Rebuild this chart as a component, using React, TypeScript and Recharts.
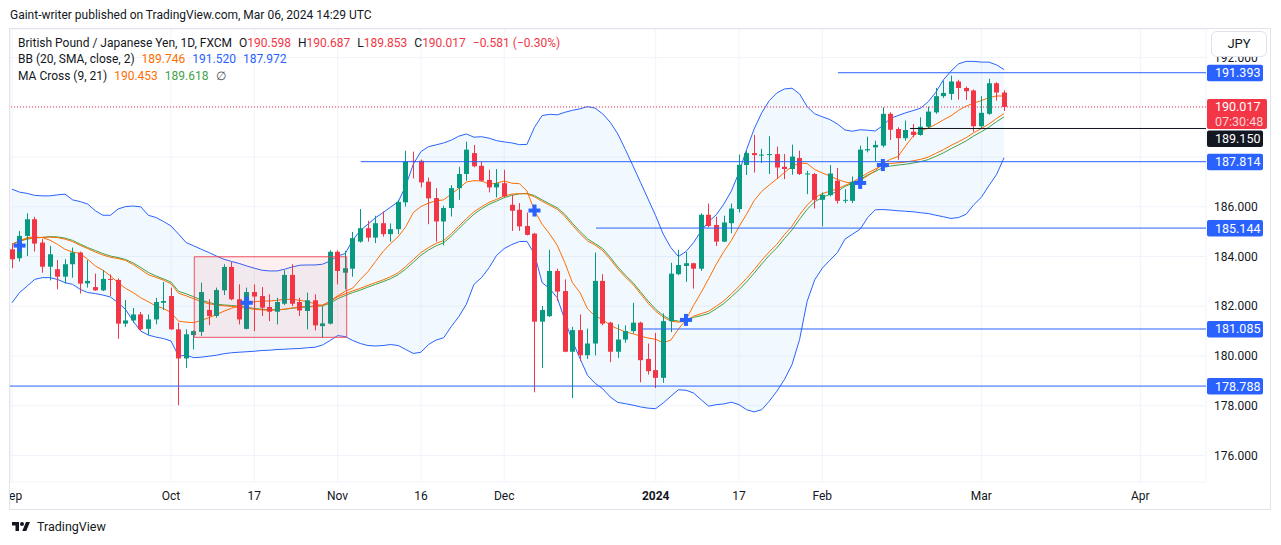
import React from 'react';
import {
  ComposedChart,
  Bar,
  Line,
  Area,
  XAxis,
  YAxis,
  CartesianGrid,
  ReferenceLine,
  ReferenceArea,
} from 'recharts';

// ---------- data (GBP/JPY daily, FXCM) ----------
const OPEN = [
  184.29, 183.93, 184.83, 185.5, 184.56, 183.59, 183.49, 183.19, 183.69, 184.16,
  182.92, 182.77, 182.64, 183.1, 183.06, 181.3, 181.43, 181.67, 181.09, 181.47,
  182.14, 182.41, 181.07, 179.9, 180.84, 180.97, 181.85, 181.61, 182.64, 183.58,
  182.28, 181.09, 182.57, 182.41, 181.97, 181.78, 182.1, 183.26, 182.17, 181.81,
  182.24, 181.2, 181.3, 184.19, 183.35, 183.51, 184.6, 185.14, 184.76, 185.34,
  184.9, 185.1, 186.18, 187.85, 187.85, 187.01, 186.35, 185.41, 185.95, 186.75,
  187.32, 188.16, 187.65, 187.08, 186.78, 186.95, 186.08, 185.88, 185.23, 184.92,
  181.38, 181.6, 183.42, 182.61, 180.17, 181.04, 180.03, 180.5, 183.02, 181.34,
  180.17, 180.66, 181.0, 181.34, 179.88, 179.43, 179.12, 181.4, 183.29, 183.62,
  183.73, 183.51, 185.68, 185.27, 184.6, 185.34, 185.91, 187.68, 188.16, 188.07,
  188.1, 188.12, 187.61, 187.52, 187.96, 187.3, 187.32, 186.28, 186.47, 187.05,
  186.25, 186.24, 186.98, 188.27, 188.39, 188.46, 189.74, 189.13, 188.76, 189.02,
  188.89, 189.22, 189.8, 190.45, 190.54, 191.04, 190.78, 190.68, 189.24, 189.74,
  190.97, 190.598,
];
const HIGH = [
  184.49, 185.03, 185.74, 185.6, 184.7, 184.43, 183.86, 183.89, 184.36, 184.2,
  183.86, 183.31, 183.45, 183.28, 183.12, 182.25, 181.93, 181.77, 181.67, 182.34,
  182.98, 182.75, 181.34, 181.07, 181.03, 182.95, 182.28, 182.75, 183.69, 183.78,
  182.88, 182.75, 182.88, 182.77, 182.48, 182.34, 183.45, 183.69, 182.34, 182.55,
  182.48, 182.01, 184.25, 184.25, 184.23, 184.99, 185.91, 185.44, 185.64, 185.81,
  185.33, 186.28, 188.26, 188.22, 187.9, 187.18, 186.75, 186.04, 186.87, 187.61,
  188.62, 188.49, 187.81, 187.49, 187.52, 187.49, 186.48, 186.15, 185.77, 184.95,
  182.01, 184.27, 183.51, 183.08, 181.17, 181.67, 181.1, 184.16, 183.29, 181.38,
  181.27, 181.23, 182.14, 181.38, 180.5, 180.93, 181.71, 183.75, 184.27, 184.18,
  183.75, 185.74, 186.13, 185.6, 185.64, 186.13, 188.1, 188.26, 188.89, 188.33,
  188.84, 188.42, 188.12, 188.5, 188.26, 187.45, 187.36, 186.58, 187.68, 187.56,
  186.71, 187.22, 188.46, 188.82, 188.66, 190.0, 189.8, 189.2, 189.47, 189.33,
  189.6, 190.03, 190.78, 191.08, 191.28, 191.11, 190.84, 190.72, 190.45, 191.15,
  191.01, 190.687,
];
const LOW = [
  183.53, 183.8, 184.02, 184.2, 183.35, 183.04, 182.68, 182.91, 183.15, 182.51,
  182.75, 182.62, 182.61, 182.41, 180.69, 181.17, 181.34, 181.0, 180.84, 181.27,
  181.85, 181.05, 178.02, 179.52, 180.26, 180.8, 181.24, 181.54, 182.45, 182.24,
  181.27, 181.07, 181.0, 181.61, 181.4, 181.27, 182.05, 182.01, 181.61, 181.07,
  181.03, 180.73, 181.27, 182.88, 182.68, 183.19, 184.56, 184.6, 184.54, 184.8,
  184.6, 184.9, 186.01, 187.14, 186.78, 185.3, 184.6, 184.45, 185.61, 186.28,
  187.05, 187.59, 187.01, 186.58, 186.38, 186.38, 185.03, 185.03, 184.85, 178.54,
  179.52, 181.57, 182.21, 180.15, 178.31, 179.79, 179.88, 180.02, 181.23, 179.75,
  179.92, 180.53, 180.9, 178.94, 179.25, 178.71, 178.92, 180.96, 183.25, 182.98,
  182.71, 183.42, 185.17, 184.42, 184.58, 184.94, 185.77, 187.28, 187.38, 187.76,
  187.32, 187.14, 187.11, 187.29, 187.28, 186.51, 185.93, 185.21, 186.42, 186.13,
  186.15, 186.15, 186.85, 188.19, 187.83, 188.39, 188.69, 187.89, 188.66, 188.8,
  188.86, 189.13, 189.74, 190.38, 190.3, 190.31, 190.3, 189.02, 189.17, 189.7,
  190.27, 189.853,
];
const CLOSE = [
  183.89, 184.83, 185.5, 184.52, 183.59, 184.09, 183.19, 183.69, 184.16, 182.91,
  183.02, 182.64, 183.1, 183.06, 181.3, 181.43, 181.67, 181.07, 181.47, 182.17,
  182.21, 181.07, 179.9, 180.87, 181.0, 182.57, 181.61, 182.65, 183.58, 182.28,
  181.47, 182.57, 182.39, 181.94, 181.78, 182.17, 183.26, 182.1, 181.83, 182.24,
  181.23, 181.31, 184.19, 183.42, 183.53, 184.74, 185.14, 184.76, 185.34, 184.9,
  185.1, 186.2, 187.83, 187.81, 186.98, 186.34, 185.41, 185.95, 186.75, 187.32,
  188.3, 187.63, 187.05, 186.78, 186.95, 186.42, 185.84, 185.21, 184.87, 181.38,
  181.85, 183.42, 182.59, 180.17, 181.04, 180.03, 180.5, 183.02, 181.3, 180.17,
  180.66, 181.0, 181.34, 179.83, 179.39, 179.12, 181.4, 183.31, 183.66, 183.73,
  183.51, 185.68, 185.23, 184.6, 185.37, 185.93, 187.69, 188.16, 188.08, 188.1,
  188.12, 187.58, 187.52, 188.02, 187.32, 187.34, 186.28, 186.48, 187.34, 186.24,
  186.28, 187.01, 188.3, 188.32, 188.49, 189.74, 189.1, 188.76, 189.09, 188.89,
  189.22, 189.83, 190.45, 190.58, 191.04, 190.78, 190.65, 189.24, 189.78, 190.97,
  190.598, 190.017,
];

// Bollinger Bands (20, SMA, close, 2) as drawn
const BB_UPPER = [
  186.71, 186.59, 186.54, 186.46, 186.44, 186.44, 186.48, 186.51, 186.28, 186.21,
  186.11, 185.84, 185.66, 185.66, 185.91, 186.01, 186.03, 186.0, 185.66, 185.57,
  185.41, 185.23, 184.9, 184.56, 184.43, 184.29, 184.16, 184.02, 183.89, 183.8,
  183.72, 183.62, 183.53, 183.45, 183.42, 183.42, 183.49, 183.58, 183.65, 183.66,
  183.66, 183.69, 183.82, 184.02, 184.12, 184.66, 185.05, 185.3, 185.56, 185.77,
  185.99, 186.2, 186.85, 187.72, 188.22, 188.42, 188.49, 188.57, 188.68, 188.84,
  188.93, 188.8, 188.82, 188.76, 188.66, 188.61, 188.57, 188.5, 188.51, 189.2,
  189.67, 189.72, 189.7, 189.8, 189.88, 189.94, 190.03, 189.97, 189.74, 189.4,
  188.93, 188.3, 187.65, 186.98, 186.31, 185.64, 184.9, 184.36, 184.0, 184.2,
  184.56, 185.03, 185.41, 185.68, 186.11, 186.64, 187.38, 188.3, 189.13, 189.78,
  190.27, 190.58, 190.74, 190.77, 190.54, 190.03, 189.74, 189.62, 189.51, 189.33,
  189.09, 189.04, 189.1, 189.08, 189.05, 189.27, 189.56, 189.67, 189.78, 189.87,
  189.97, 190.23, 190.61, 191.11, 191.46, 191.75, 191.85, 191.85, 191.82, 191.82,
  191.71, 191.52,
];
const BB_LOWER = [
  182.14, 182.55, 182.81, 183.08, 183.15, 183.15, 183.08, 182.95, 182.88, 182.68,
  182.55, 182.51, 182.45, 182.37, 182.14, 181.87, 181.4, 181.0, 180.84, 180.76,
  180.7, 180.6, 179.99, 180.03, 179.93, 179.95, 179.99, 180.03, 180.09, 180.13,
  180.15, 180.17, 180.19, 180.22, 180.23, 180.26, 180.27, 180.29, 180.3, 180.33,
  180.35, 180.44, 180.62, 180.82, 180.78, 180.62, 180.5, 180.42, 180.4, 180.42,
  180.46, 180.42, 180.26, 180.1, 180.15, 180.46, 180.64, 180.73, 181.18, 181.58,
  182.08, 182.88, 183.15, 183.55, 184.05, 184.32, 184.48, 184.6, 184.61, 184.09,
  182.95, 182.71, 182.34, 181.45, 180.6, 179.9, 179.22, 178.9, 178.68, 178.35,
  178.13, 178.08, 178.02, 177.95, 177.9, 177.88, 178.11, 178.38, 178.64, 178.62,
  178.51, 178.24, 177.98, 178.04, 178.07, 178.14, 178.04, 177.84, 177.75, 177.84,
  178.18, 178.58, 179.05, 179.65, 180.66, 182.2, 183.06, 183.53, 183.85, 184.16,
  184.7, 184.9, 185.1, 185.57, 185.88, 185.89, 185.87, 185.84, 185.82, 185.8,
  185.76, 185.73, 185.66, 185.6, 185.53, 185.57, 185.7, 186.08, 186.38, 186.85,
  187.29, 187.972,
];
const BB_BASIS = [
  184.48, 184.62, 184.72, 184.76, 184.77, 184.78, 184.76, 184.7, 184.6, 184.45,
  184.32, 184.18, 184.06, 183.97, 183.92, 183.84, 183.68, 183.48, 183.27, 183.16,
  183.05, 182.9, 182.52, 182.42, 182.3, 182.18, 182.1, 182.05, 182.02, 181.99,
  181.96, 181.92, 181.88, 181.85, 181.84, 181.85, 181.88, 181.93, 181.97, 181.99,
  182.01, 182.05, 182.18, 182.38, 182.5, 182.62, 182.72, 182.84, 182.95, 183.06,
  183.19, 183.35, 183.6, 183.88, 184.16, 184.36, 184.53, 184.64, 184.92, 185.22,
  185.52, 185.8, 186.0, 186.18, 186.3, 186.44, 186.51, 186.53, 186.52, 186.4,
  186.22, 186.06, 185.9, 185.62, 185.26, 184.92, 184.63, 184.46, 184.24, 183.89,
  183.5, 183.17, 182.88, 182.5, 182.12, 181.8, 181.56, 181.4, 181.36, 181.4,
  181.6, 181.7, 181.8, 182.0, 182.22, 182.5, 182.8, 183.12, 183.47, 183.85,
  184.19, 184.49, 184.88, 185.22, 185.68, 186.07, 186.36, 186.53, 186.63, 186.72,
  186.86, 186.99, 187.18, 187.36, 187.52, 187.68, 187.74, 187.77, 187.8, 187.85,
  187.91, 188.0, 188.15, 188.3, 188.47, 188.62, 188.78, 188.98, 189.15, 189.33,
  189.55, 189.746,
];
// MA Cross (9, 21) as drawn
const MA9 = [
  184.49, 184.63, 184.76, 184.79, 184.76, 184.66, 184.49, 184.29, 184.18, 184.12,
  183.89, 183.62, 183.45, 183.22, 182.95, 182.72, 182.55, 182.34, 182.18, 182.01,
  181.91, 181.74, 181.4, 181.36, 181.34, 181.43, 181.54, 181.67, 181.8, 181.92,
  182.02, 182.1, 182.18, 182.21, 182.21, 182.24, 182.28, 182.28, 182.24, 182.18,
  182.1, 182.01, 182.21, 182.42, 182.6, 182.73, 183.08, 183.39, 183.8, 184.2,
  184.52, 184.8, 185.2, 185.77, 186.01, 186.15, 186.24, 186.28, 186.51, 186.74,
  187.0, 187.05, 187.04, 186.91, 186.95, 187.04, 186.95, 186.93, 186.64, 185.84,
  185.3, 184.91, 184.45, 183.76, 182.95, 182.55, 181.9, 181.6, 181.47, 181.23,
  181.09, 180.97, 180.89, 180.8, 180.72, 180.67, 180.53, 180.64, 181.08, 181.45,
  182.03, 182.55, 183.11, 183.69, 184.2, 184.65, 185.2, 185.7, 186.25, 186.62,
  186.88, 187.12, 187.38, 187.62, 187.76, 187.74, 187.5, 187.36, 187.24, 187.1,
  187.0, 186.95, 187.05, 187.25, 187.45, 187.75, 187.91, 188.02, 188.45, 188.85,
  189.05, 189.17, 189.32, 189.5, 189.66, 189.88, 190.05, 190.17, 190.27, 190.39,
  190.46, 190.453,
];
const MA21 = [
  184.5, 184.62, 184.7, 184.74, 184.77, 184.8, 184.79, 184.74, 184.65, 184.5,
  184.36, 184.24, 184.12, 184.02, 183.96, 183.88, 183.74, 183.56, 183.36, 183.22,
  183.1, 182.97, 182.6, 182.5, 182.38, 182.25, 182.15, 182.08, 182.05, 182.03,
  182.0, 181.96, 181.91, 181.88, 181.86, 181.86, 181.88, 181.92, 181.95, 181.97,
  181.99, 182.02, 182.12, 182.3, 182.43, 182.55, 182.65, 182.77, 182.88, 182.99,
  183.11, 183.27, 183.5, 183.77, 184.05, 184.26, 184.43, 184.55, 184.82, 185.12,
  185.42, 185.7, 185.92, 186.1, 186.23, 186.37, 186.46, 186.52, 186.54, 186.45,
  186.28, 186.12, 185.96, 185.7, 185.34, 185.01, 184.71, 184.52, 184.32, 183.97,
  183.58, 183.25, 182.95, 182.58, 182.21, 181.88, 181.63, 181.46, 181.4, 181.4,
  181.55, 181.62, 181.71, 181.9, 182.11, 182.38, 182.66, 182.98, 183.33, 183.7,
  184.05, 184.35, 184.72, 185.07, 185.5, 185.9, 186.2, 186.38, 186.5, 186.62,
  186.82, 186.95, 187.1, 187.28, 187.42, 187.58, 187.64, 187.68, 187.71, 187.76,
  187.82, 187.9, 188.03, 188.17, 188.34, 188.49, 188.65, 188.85, 189.02, 189.2,
  189.42, 189.618,
];

// MA cross markers (bar index, price)
const CROSS_INDEX = [1, 31, 69, 89, 112, 115];
const CROSS_PRICE = [184.44, 182.14, 185.85, 181.45, 186.96, 187.68];

// time axis (bar index of first bar of each labelled period)
const TIME_TICK_INDEX = [0, 21, 32, 43, 54, 65, 85, 96, 107, 128, 149];
const TIME_TICK_LABEL = ['Sep', 'Oct', '17', 'Nov', '16', 'Dec', '2024', '17', 'Feb', 'Mar', 'Apr'];
const PRICE_TICKS = [176, 178, 180, 182, 184, 186, 188, 190, 192];

// drawn horizontal levels (price, first bar index)
const LEVEL_PRICE = [191.393, 187.814, 185.144, 181.085, 178.788];
const LEVEL_START = [109.07, 46.05, 77.12, 83.2, -0.264];
const SUPPORT_PRICE = 189.15;
const SUPPORT_START = 118.58;
const COUNTDOWN = '07:30:48';

// highlighted consolidation box (bar index range, price range)
const BOX_X = [24.07, 44.2];
const BOX_Y = [180.75, 183.99];

// visible window
const X_DOMAIN = [-0.264, 157.67];
const Y_DOMAIN = [174.93, 193.152];

// ---------- styles ----------
const FONT = "Roboto, 'Noto Sans', Arial, sans-serif";
const UP = '#089981';
const DOWN = '#f23645';
const BLUE = '#2962ff';
const ORANGE = '#ff6d00';
const GREEN = '#43a047';
const TEXT = '#131722';

const LAST = CLOSE.length - 1;
const LAST_CLOSE = CLOSE[LAST];
const PREV_CLOSE = CLOSE[LAST - 1];
// axis labels that sit underneath a coloured price tag are covered by it
const TAGGED_PRICES = [LAST_CLOSE, ...LEVEL_PRICE];

const DATA = OPEN.map((o, i) => {
  const k = CROSS_INDEX.indexOf(i);
  return {
    i,
    o,
    h: HIGH[i],
    l: LOW[i],
    c: CLOSE[i],
    hl: [LOW[i], HIGH[i]],
    band: [BB_LOWER[i], BB_UPPER[i]],
    upper: BB_UPPER[i],
    lower: BB_LOWER[i],
    basis: BB_BASIS[i],
    ma9: MA9[i],
    ma21: MA21[i],
    cross: k >= 0 ? CROSS_PRICE[k] : null,
  };
});

const Candle = (props: any) => {
  const { x, y, width, height, payload } = props;
  if (!payload || x == null || y == null) return null;
  const top = Math.min(y, y + height);
  const bottom = Math.max(y, y + height);
  const span = payload.h - payload.l;
  const k = span > 0 ? (bottom - top) / span : 0;
  const yO = top + (payload.h - payload.o) * k;
  const yC = top + (payload.h - payload.c) * k;
  const color = payload.c >= payload.o ? UP : DOWN;
  const cx = Math.round(x + width / 2);
  const bTop = Math.min(yO, yC);
  const bH = Math.max(Math.abs(yC - yO), 1);
  return (
    <g>
      <rect x={cx} y={top} width={1} height={bottom - top} fill={color} />
      <rect x={cx - 2} y={bTop} width={5} height={bH} fill={color} />
    </g>
  );
};

const CrossDot = (props: any) => {
  const { cx, cy, value, index } = props;
  if (cx == null || cy == null || value == null) return <g key={`c${index}`} />;
  return (
    <g key={`c${index}`}>
      <rect x={cx - 6} y={cy - 2} width={12} height={4} fill={BLUE} />
      <rect x={cx - 2} y={cy - 6} width={4} height={12} fill={BLUE} />
    </g>
  );
};

const PriceTag = (props: any) => {
  const { viewBox, text, bg, dy = 0, sub } = props;
  if (!viewBox) return null;
  const x = viewBox.x + viewBox.width + 1;
  const cy = viewBox.y + dy;
  if (sub) {
    return (
      <g>
        <rect x={x} y={cy - 8} width={60} height={30} rx={2} fill={bg} />
        <text x={x + 8} y={cy} dy="0.36em" fontSize={12.5} fill="#ffffff" fontFamily={FONT}>
          {text}
        </text>
        <text x={x + 8} y={cy + 15} dy="0.36em" fontSize={12.5} fill="#fdd2d5" fontFamily={FONT}>
          {sub}
        </text>
      </g>
    );
  }
  return (
    <g>
      <rect x={x} y={cy - 8} width={56} height={16.5} rx={2} fill={bg} />
      <text x={x + 8} y={cy} dy="0.36em" fontSize={12.5} fill="#ffffff" fontFamily={FONT}>
        {text}
      </text>
    </g>
  );
};

const TimeTick = (props: any) => {
  const { x, y, payload } = props;
  const idx = TIME_TICK_INDEX.indexOf(payload.value);
  const label = idx >= 0 ? TIME_TICK_LABEL[idx] : '';
  const isYear = /^\d{4}$/.test(label);
  return (
    <text
      x={x}
      y={y + 14}
      dy="0.35em"
      textAnchor="middle"
      fontSize={12}
      fontWeight={isYear ? 700 : 400}
      fill={TEXT}
      fontFamily={FONT}
    >
      {label}
    </text>
  );
};

const PriceTick = (props: any) => {
  const { x, y, payload } = props;
  const v = Number(payload.value);
  if (TAGGED_PRICES.some((p) => Math.abs(p - v) < 0.35)) return <g />;
  return (
    <text x={x} y={y} dy="0.35em" textAnchor="start" fontSize={12} fill={TEXT} fontFamily={FONT}>
      {v.toFixed(3)}
    </text>
  );
};

const TvLogo = () => (
  <svg width="22" height="14" viewBox="0 0 36 28" style={{ display: 'block' }}>
    <path d="M14 22H7V11H0V4h14v18z" fill={TEXT} />
    <circle cx="20" cy="8" r="4" fill={TEXT} />
    <path d="M28 4h8l-7.5 18H20.5L28 4z" fill={TEXT} />
  </svg>
);

export default function App() {
  const fmt = (v: number) => v.toFixed(3);
  const change = LAST_CLOSE - PREV_CLOSE;
  const pct = (change / PREV_CLOSE) * 100;
  const minus = (v: number) => (v < 0 ? '\u2212' : '+') + Math.abs(v).toFixed(3);
  const item = { marginLeft: 7 };
  return (
    <div
      style={{
        position: 'absolute',
        left: 0,
        top: 0,
        width: 1281,
        height: 545,
        background: '#ffffff',
        fontFamily: FONT,
        overflow: 'hidden',
      }}
    >
      <div style={{ position: 'absolute', left: 10, top: 7, fontSize: 12, lineHeight: '16px', color: TEXT }}>
        Gaint-writer published on TradingView.com, Mar 06, 2024 14:29 UTC
      </div>

      {/* chart frame */}
      <div
        style={{
          position: 'absolute',
          left: 9,
          top: 28,
          width: 1262,
          height: 482,
          border: '1px solid #e0e3eb',
          boxSizing: 'border-box',
        }}
      />

      <div style={{ position: 'absolute', left: 10, top: 29, width: 1260, height: 480, overflow: 'hidden' }}>
        <ComposedChart
          width={1260}
          height={480}
          data={DATA}
          margin={{ top: 0, right: 0, bottom: 0, left: 0 }}
        >
          <CartesianGrid stroke="#f0f3fa" />
          <XAxis
            dataKey="i"
            type="number"
            domain={X_DOMAIN}
            allowDataOverflow
            ticks={TIME_TICK_INDEX}
            interval={0}
            height={27}
            axisLine={false}
            tickLine={false}
            tickSize={0}
            tickMargin={0}
            tick={<TimeTick />}
          />
          <YAxis
            orientation="right"
            type="number"
            domain={Y_DOMAIN}
            allowDataOverflow
            ticks={PRICE_TICKS}
            interval={0}
            width={64}
            axisLine={false}
            tickLine={false}
            tickSize={0}
            tickMargin={8}
            tick={<PriceTick />}
          />
          <Area
            dataKey="band"
            stroke="none"
            fill="#2196f3"
            fillOpacity={0.06}
            isAnimationActive={false}
            zIndex={100}
          />
          <Line dataKey="upper" stroke={BLUE} strokeWidth={1} dot={false} isAnimationActive={false} zIndex={400} />
          <Line dataKey="lower" stroke={BLUE} strokeWidth={1} dot={false} isAnimationActive={false} zIndex={400} />
          <Line dataKey="ma21" stroke={GREEN} strokeWidth={1} dot={false} isAnimationActive={false} zIndex={400} />
          <Line dataKey="basis" stroke={ORANGE} strokeWidth={1} dot={false} isAnimationActive={false} zIndex={400} />
          <Line dataKey="ma9" stroke={ORANGE} strokeWidth={1} dot={false} isAnimationActive={false} zIndex={400} />
          <Line
            dataKey="cross"
            stroke="none"
            dot={<CrossDot />}
            activeDot={false}
            isAnimationActive={false}
            zIndex={410}
          />
          <Bar dataKey="hl" barSize={5} shape={<Candle />} isAnimationActive={false} zIndex={450} />

          <ReferenceArea
            x1={BOX_X[0]}
            x2={BOX_X[1]}
            y1={BOX_Y[0]}
            y2={BOX_Y[1]}
            fill="#f23645"
            fillOpacity={0.08}
            stroke="#f23645"
            strokeOpacity={0.85}
            strokeWidth={1}
            ifOverflow="visible"
            zIndex={600}
          />
          <ReferenceLine
            y={LAST_CLOSE}
            stroke={DOWN}
            strokeDasharray="1 2"
            strokeWidth={1}
            zIndex={600}
            label={<PriceTag text={fmt(LAST_CLOSE)} bg={DOWN} sub={COUNTDOWN} />}
          />
          <ReferenceLine
            segment={[
              { x: SUPPORT_START, y: SUPPORT_PRICE },
              { x: X_DOMAIN[1], y: SUPPORT_PRICE },
            ]}
            stroke={TEXT}
            strokeWidth={1}
            zIndex={600}
            label={<PriceTag text={fmt(SUPPORT_PRICE)} bg={TEXT} dy={10} />}
          />
          {LEVEL_PRICE.map((p, k) => (
            <ReferenceLine
              key={`lv${k}`}
              segment={[
                { x: LEVEL_START[k], y: p },
                { x: X_DOMAIN[1], y: p },
              ]}
              stroke={BLUE}
              strokeWidth={1}
              zIndex={600}
              label={<PriceTag text={fmt(p)} bg={BLUE} />}
            />
          ))}
        </ComposedChart>
      </div>

      {/* legend */}
      <div style={{ position: 'absolute', left: 18, top: 35, fontSize: 12, lineHeight: '16px', color: TEXT, whiteSpace: 'nowrap' }}>
        <span>British Pound / Japanese Yen, 1D, FXCM</span>
        <span style={item}>O<span style={{ color: DOWN }}>{fmt(OPEN[LAST])}</span></span>
        <span style={item}>H<span style={{ color: DOWN }}>{fmt(HIGH[LAST])}</span></span>
        <span style={item}>L<span style={{ color: DOWN }}>{fmt(LOW[LAST])}</span></span>
        <span style={item}>C<span style={{ color: DOWN }}>{fmt(LAST_CLOSE)}</span></span>
        <span style={{ ...item, color: DOWN }}>
          {minus(change)} ({pct < 0 ? '\u2212' : '+'}{Math.abs(pct).toFixed(2)}%)
        </span>
      </div>
      <div style={{ position: 'absolute', left: 18, top: 51, fontSize: 12, lineHeight: '16px', color: TEXT, whiteSpace: 'nowrap' }}>
        <span>BB (20, SMA, close, 2)</span>
        <span style={{ ...item, color: ORANGE }}>{fmt(BB_BASIS[LAST])}</span>
        <span style={{ ...item, color: BLUE }}>{fmt(BB_UPPER[LAST])}</span>
        <span style={{ ...item, color: BLUE }}>{fmt(BB_LOWER[LAST])}</span>
      </div>
      <div style={{ position: 'absolute', left: 18, top: 68, fontSize: 12, lineHeight: '16px', color: TEXT, whiteSpace: 'nowrap' }}>
        <span>MA Cross (9, 21)</span>
        <span style={{ ...item, color: ORANGE }}>{fmt(MA9[LAST])}</span>
        <span style={{ ...item, color: GREEN }}>{fmt(MA21[LAST])}</span>
        <span style={{ ...item, color: '#4a4e59' }}>{'\u2205'}</span>
      </div>

      {/* currency button */}
      <div
        style={{
          position: 'absolute',
          left: 1211,
          top: 31,
          width: 56,
          height: 26,
          border: '1px solid #e0e3eb',
          borderRadius: 6,
          background: '#ffffff',
          boxSizing: 'border-box',
          fontSize: 13,
          lineHeight: '24px',
          textAlign: 'center',
          color: TEXT,
        }}
      >
        JPY
      </div>

      {/* footer */}
      <div style={{ position: 'absolute', left: 10, top: 519, display: 'flex', alignItems: 'center', gap: 5 }}>
        <TvLogo />
        <span style={{ fontSize: 12.5, color: TEXT, lineHeight: '16px' }}>TradingView</span>
      </div>
    </div>
  );
}
